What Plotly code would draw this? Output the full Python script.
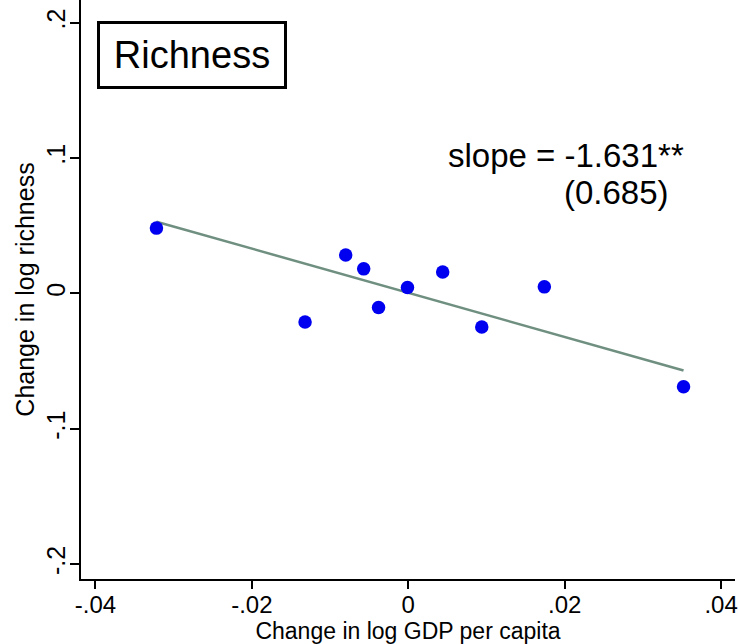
import plotly.graph_objects as go
import numpy as np

# Data
gdp_change = [-0.0322, -0.0080, -0.0057, -0.0001, 0.0044, 0.0174, -0.0132, -0.0038, 0.0094, 0.0352]
richness_change = [0.0483, 0.0284, 0.0182, 0.0044, 0.0158, 0.0049, -0.0211, -0.0103, -0.0248, -0.0689]
SLOPE = -1.631
INTERCEPT = 0.0005
x_tickvals = [-0.04, -0.02, 0, 0.02, 0.04]
x_ticktext = ["-.04", "-.02", "0", ".02", ".04"]
y_tickvals = [-0.2, -0.1, 0, 0.1, 0.2]
y_ticktext = ["-.2", "-.1", "0", ".1", ".2"]

FONT = "Liberation Sans, Arial, sans-serif"

fit_x = np.array([min(gdp_change), max(gdp_change)])
fit_y = INTERCEPT + SLOPE * fit_x

fig = go.Figure()
fig.add_trace(go.Scatter(x=fit_x, y=fit_y, mode="lines",
                         line=dict(color="#6f8f80", width=2.5),
                         hoverinfo="skip", showlegend=False))
fig.add_trace(go.Scatter(x=gdp_change, y=richness_change, mode="markers",
                         marker=dict(color="#0000f0", size=13.5, line=dict(width=0)),
                         showlegend=False))

fig.update_layout(
    width=738, height=644,
    margin=dict(l=81, r=0, t=0, b=65),
    paper_bgcolor="white", plot_bgcolor="white",
    font=dict(family=FONT, color="black", size=24),
    xaxis=dict(range=[-0.04185, 0.04178], tickvals=x_tickvals, ticktext=x_ticktext,
               showline=True, linecolor="black", linewidth=2, ticks="outside",
               ticklen=8, tickwidth=1.5, tickcolor="black", showgrid=False, zeroline=False,
               tickfont=dict(size=24), ticklabeloverflow="allow", ticklabelstandoff=-5,
               title=dict(text="Change in log GDP per capita", font=dict(size=23), standoff=0)),
    yaxis=dict(range=[-0.2109, 0.2168], tickvals=y_tickvals, ticktext=y_ticktext,
               showline=True, linecolor="black", linewidth=2, ticks="outside",
               ticklen=9, tickwidth=1.5, tickcolor="black", showgrid=False, zeroline=False,
               tickangle=-90, tickfont=dict(size=25), ticklabeloverflow="allow",
               ticklabelstandoff=-5,
               title=dict(text="Change in log richness", font=dict(size=25), standoff=0)),
    annotations=[
        dict(text="Richness", xref="paper", yref="paper", x=0.1698, y=0.905,
             xanchor="center", yanchor="middle", showarrow=False,
             font=dict(size=38, family=FONT, color="black"),
             bordercolor="black", borderwidth=3, borderpad=0, bgcolor="white",
             width=184, height=62),
        dict(text="slope = -1.631**", xref="paper", yref="paper", x=0.5583, y=0.731,
             xanchor="left", yanchor="middle", showarrow=False,
             font=dict(size=33, family=FONT, color="black")),
        dict(text="(0.685)", xref="paper", yref="paper", x=0.7355, y=0.667,
             xanchor="left", yanchor="middle", showarrow=False,
             font=dict(size=33, family=FONT, color="black")),
    ],
)

fig.write_html("out.html")
